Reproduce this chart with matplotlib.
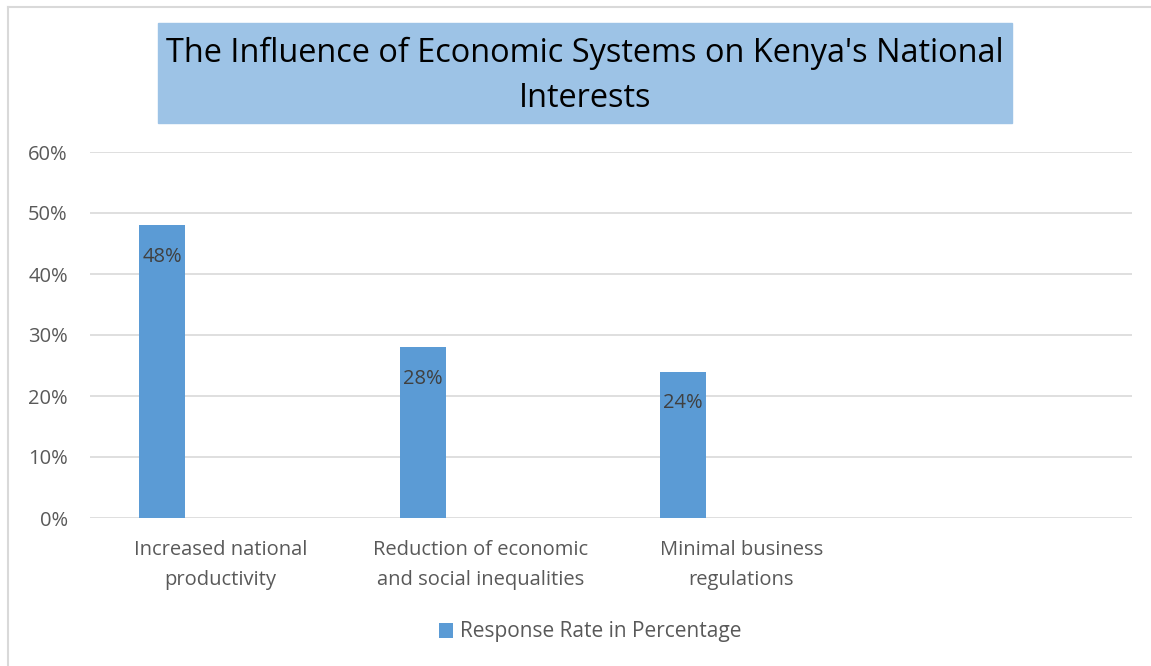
import matplotlib.pyplot as plt
import numpy as np
from matplotlib.patches import Rectangle
from matplotlib.lines import Line2D

categories = ["Increased national\nproductivity",
              "Reduction of economic\nand social inequalities",
              "Minimal business\nregulations",
              ""]
response = [0.48, 0.28, 0.24]
series_name = "Response Rate in Percentage"
title = "The Influence of Economic Systems on Kenya's National\nInterests"

plt.rcParams['font.family'] = ['Open Sans', 'DejaVu Sans']

fig = plt.figure(figsize=(11.51, 6.66), dpi=100)
ax = fig.add_axes([90/1151, 1-518/666, (1132-90)/1151, (518-152)/666])

x = np.arange(len(categories))
width = 0.177
offset = -0.223
bars = ax.bar(x[:len(response)] + offset, response, width, color="#5b9bd5",
              label=series_name, zorder=3)
ax.bar_label(bars, labels=[f"{v:.0%}" for v in response], label_type="edge",
             padding=-30, color="#404040", fontsize=14.5)

ax.set_xlim(-0.5, len(categories) - 0.5)
ax.set_ylim(0, 0.6)
ax.set_yticks(np.arange(0, 0.61, 0.1))
ax.set_yticklabels([f"{int(round(t*100))}%" for t in np.arange(0, 0.61, 0.1)])
ax.set_xticks(x)
ax.set_xticklabels(categories, linespacing=1.65)
ax.tick_params(axis="both", length=0, colors="#595959", labelsize=14.5)
ax.tick_params(axis="y", pad=16)
ax.tick_params(axis="x", pad=16)
ax.grid(axis="y", color="#d9d9d9", linewidth=1.2, zorder=0)
for s in ax.spines.values():
    s.set_visible(False)

leg = fig.legend(handles=[bars], labels=[series_name], loc="center",
                 bbox_to_anchor=(590/1151, 1-632/666), frameon=False,
                 fontsize=15, handlelength=0.7, handleheight=0.7,
                 handletextpad=0.3)
for t in leg.get_texts():
    t.set_color("#595959")

# title box
fig.patches.append(Rectangle((158/1151, 1-123/666), 854/1151, 100/666,
                             transform=fig.transFigure, color="#9dc3e6", zorder=0))
fig.text(585/1151, 1-76/666, title, ha="center", va="center", fontsize=23.4,
         color="black", linespacing=1.48)

# chart frame (top and left edges visible)
fig.add_artist(Line2D([8/1151, 8/1151], [0, 1-7/666], transform=fig.transFigure,
                      color="#d9d9d9", linewidth=1.5))
fig.add_artist(Line2D([8/1151, 1], [1-7/666, 1-7/666], transform=fig.transFigure,
                      color="#d9d9d9", linewidth=1.5))

fig.savefig("out.png", dpi=100, facecolor="white")
